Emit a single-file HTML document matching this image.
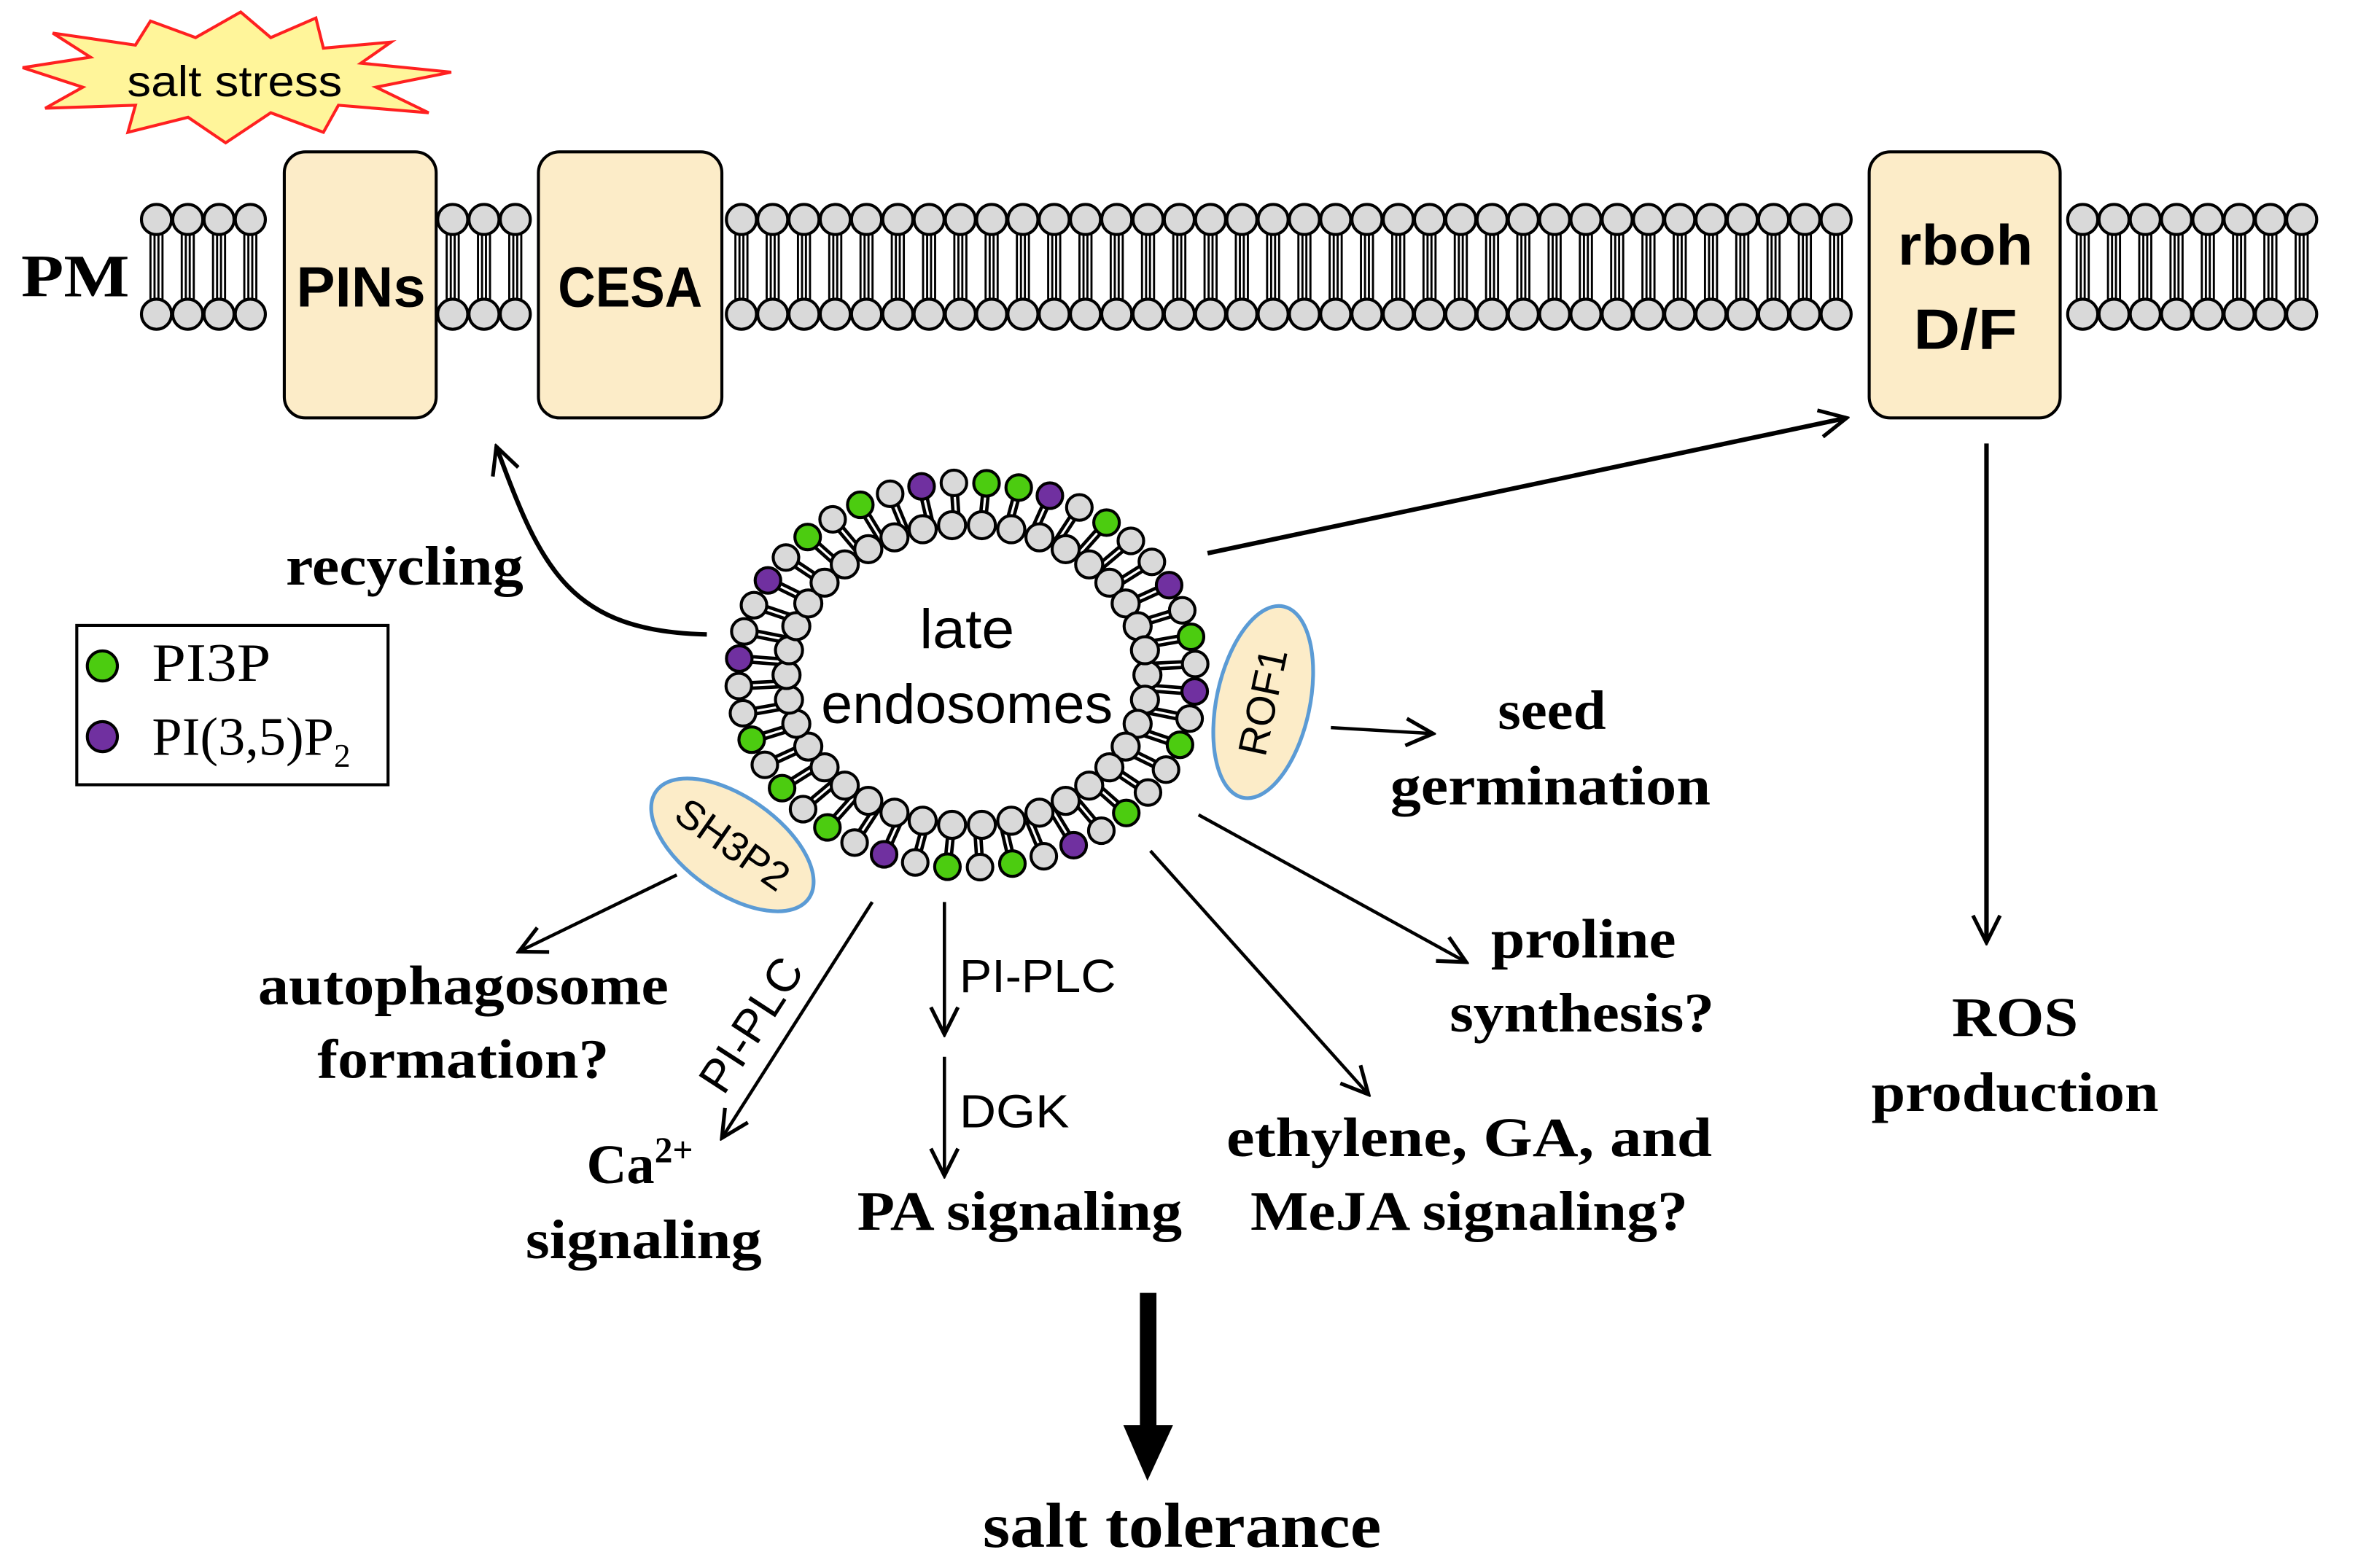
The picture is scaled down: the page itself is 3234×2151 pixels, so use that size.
<!DOCTYPE html>
<html><head><meta charset="utf-8">
<style>html,body{margin:0;padding:0;background:#fff}svg{display:block}</style>
</head><body>
<svg id="s" xmlns="http://www.w3.org/2000/svg" width="3234" height="2151" viewBox="0 0 1568 1043">
<defs>
<marker id="ah2" markerWidth="22" markerHeight="22" refX="20" refY="11" orient="auto" markerUnits="userSpaceOnUse">
<path d="M2,2 L20,11 L2,20" fill="none" stroke="#000" stroke-width="2.5"/></marker>
</defs>
<rect width="1568" height="1043" fill="#fff"/>
<g id="mem"></g>
<g id="ves"></g>
<!-- salt stress -->
<polygon points="15,45 60,38 35,22 90,30 100,14 130,25 160,8 180,25 210,12 215,32 260,28 240,42 300,48 250,58 285,75 225,70 215,88 180,75 150,95 125,78 85,88 90,70 30,72 55,58" fill="#fff59a" stroke="#ff2020" stroke-width="2"/>
<text x="156" y="64" font-family="Liberation Sans, sans-serif" font-size="29" text-anchor="middle" textLength="143" lengthAdjust="spacingAndGlyphs">salt stress</text>
<text x="14" y="197" font-family="Liberation Serif, serif" font-weight="bold" font-size="40" textLength="72" lengthAdjust="spacingAndGlyphs">PM</text>
<!-- proteins -->
<g fill="#fcecc8" stroke="#000" stroke-width="2">
<rect x="189" y="101" width="101" height="177" rx="14"/>
<rect x="358" y="101" width="122" height="177" rx="14"/>
<rect x="1243" y="101" width="127" height="177" rx="14"/>
</g>
<g font-family="Liberation Sans, sans-serif" font-weight="bold" text-anchor="middle" font-size="38">
<text x="240" y="204" textLength="86" lengthAdjust="spacingAndGlyphs">PINs</text>
<text x="419" y="204" textLength="96" lengthAdjust="spacingAndGlyphs">CESA</text>
<text x="1307" y="176" textLength="90" lengthAdjust="spacingAndGlyphs">rboh</text>
<text x="1307" y="232" textLength="69" lengthAdjust="spacingAndGlyphs">D/F</text>
</g>
<!-- legend -->
<rect x="51" y="416" width="207" height="106" fill="#fff" stroke="#000" stroke-width="2"/>
<circle cx="68" cy="443" r="10" fill="#4ccc10" stroke="#000" stroke-width="2"/>
<circle cx="68" cy="490" r="10" fill="#7030a0" stroke="#000" stroke-width="2"/>
<g font-family="Liberation Serif, serif" font-size="36">
<text x="101" y="453" textLength="79" lengthAdjust="spacingAndGlyphs">PI3P</text>
<text x="101" y="502">PI(3,5)P<tspan font-size="22" dy="8">2</tspan></text>
</g>
<!-- SH3P2 / ROF1 -->
<g fill="#fcecc8" stroke="#5b9bd5" stroke-width="2.5">
<ellipse cx="487" cy="562" rx="62" ry="32" transform="rotate(35 487 562)"/>
<ellipse cx="840" cy="467" rx="31" ry="65" transform="rotate(12 840 467)"/>
</g>
<g font-family="Liberation Sans, sans-serif" font-size="27" text-anchor="middle">
<text x="487" y="571" transform="rotate(35 487 562)">SH3P2</text>
<text x="840" y="476" transform="rotate(-78 840 467)">ROF1</text>
</g>
<text x="643" y="431" font-family="Liberation Sans, sans-serif" font-size="37" text-anchor="middle" textLength="63" lengthAdjust="spacingAndGlyphs">late</text>
<text x="643" y="481" font-family="Liberation Sans, sans-serif" font-size="37" text-anchor="middle" textLength="194" lengthAdjust="spacingAndGlyphs">endosomes</text>
<!-- arrows -->
<g fill="none" stroke="#000" stroke-width="3">
<path d="M470,422 C380,420 360,380 330,297" marker-end="url(#ah2)"/>
<path d="M803,368 L1228,278" marker-end="url(#ah2)"/>
<path d="M1321,295 L1321,627" marker-end="url(#ah2)"/>
</g>
<g fill="none" stroke="#000" stroke-width="2.2">
<path d="M885,484 L953,488" marker-end="url(#ah2)"/>
<path d="M797,542 L975,640" marker-end="url(#ah2)"/>
<path d="M765,566 L910,728" marker-end="url(#ah2)"/>
<path d="M628,600 L628,688" marker-end="url(#ah2)"/>
<path d="M628,703 L628,782" marker-end="url(#ah2)"/>
<path d="M580,600 L480,757" marker-end="url(#ah2)"/>
<path d="M450,582 L345,633" marker-end="url(#ah2)"/>
</g>
<rect x="758" y="860" width="11" height="90" fill="#000"/>
<polygon points="747,948 780,948 763,985" fill="#000"/>
<!-- labels -->
<g font-family="Liberation Serif, serif" font-weight="bold" font-size="37" text-anchor="middle">
<text x="269" y="389" textLength="158" lengthAdjust="spacingAndGlyphs">recycling</text>
<text x="1032" y="485" textLength="72" lengthAdjust="spacingAndGlyphs">seed</text>
<text x="1031" y="535" textLength="213" lengthAdjust="spacingAndGlyphs">germination</text>
<text x="1053" y="637" textLength="123" lengthAdjust="spacingAndGlyphs">proline</text>
<text x="1052" y="686" textLength="176" lengthAdjust="spacingAndGlyphs">synthesis?</text>
<text x="1340" y="689" textLength="84" lengthAdjust="spacingAndGlyphs">ROS</text>
<text x="1340" y="739" textLength="191" lengthAdjust="spacingAndGlyphs">production</text>
<text x="308" y="668" textLength="273" lengthAdjust="spacingAndGlyphs">autophagosome</text>
<text x="308" y="717" textLength="194" lengthAdjust="spacingAndGlyphs">formation?</text>
<text x="390" y="787" text-anchor="start">Ca<tspan font-size="24" dy="-14">2+</tspan></text>
<text x="428" y="837" textLength="157" lengthAdjust="spacingAndGlyphs">signaling</text>
<text x="678" y="818" textLength="216" lengthAdjust="spacingAndGlyphs">PA signaling</text>
<text x="977" y="769" textLength="323" lengthAdjust="spacingAndGlyphs">ethylene, GA,  and</text>
<text x="977" y="818" textLength="291" lengthAdjust="spacingAndGlyphs">MeJA signaling?</text>
<text x="786" y="1029" font-size="42" textLength="265" lengthAdjust="spacingAndGlyphs">salt tolerance</text>
</g>
<g font-family="Liberation Sans, sans-serif" font-size="31">
<text x="638" y="660" textLength="104" lengthAdjust="spacingAndGlyphs">PI-PLC</text>
<text x="638" y="750" textLength="73" lengthAdjust="spacingAndGlyphs">DGK</text>
<text x="500" y="692" text-anchor="middle" transform="rotate(-57 500 682)">PI-PLC</text>
</g>
</svg>
<script>
var NS="http://www.w3.org/2000/svg";
function el(p,t,a){var e=document.createElementNS(NS,t);for(var k in a)e.setAttribute(k,a[k]);p.appendChild(e);var s=document.getElementById('s');return e;}
var mem=document.getElementById('mem');
var segs=[[104,4],[301,3],[493,36],[1385,8]];
var sp=20.8;
segs.forEach(function(sg){
 for(var k=0;k<sg[1];k++){
  var x=sg[0]+k*sp;
  [-4,-1.3,1.3,4].forEach(function(d){
   el(mem,'line',{x1:x+d,y1:156,x2:x+d,y2:199,stroke:'#000','stroke-width':1.4});});
  el(mem,'circle',{cx:x,cy:146,r:10,fill:'#d9d9d9',stroke:'#000','stroke-width':2});
  el(mem,'circle',{cx:x,cy:209,r:10,fill:'#d9d9d9',stroke:'#000','stroke-width':2});
 }
});
var ves=document.getElementById('ves');
var cx=643,cy=449,N=44;
var cols={};
var green=[2,3,6,11,15,18,22,24,28,30,32,40,42],purp=[0,4,9,13,20,26,35,38];
green.forEach(function(i){cols[i]='#4ccc10'});purp.forEach(function(i){cols[i]='#7030a0'});
for(var i=0;i<N;i++){
 var a=-Math.PI/2-0.2+i*2*Math.PI/N;
 var ox=cx+152*Math.cos(a),oy=cy+128*Math.sin(a);
 var ix=cx+122*Math.cos(a),iy=cy+102*Math.sin(a);
 el(ves,'line',{x1:ox,y1:oy,x2:ix,y2:iy,stroke:'#000','stroke-width':6});
 el(ves,'line',{x1:ox,y1:oy,x2:ix,y2:iy,stroke:'#fff','stroke-width':1.5});
}
for(var i=0;i<N;i++){
 var a=-Math.PI/2-0.2+i*2*Math.PI/N;
 el(ves,'circle',{cx:cx+152*Math.cos(a),cy:cy+128*Math.sin(a),r:8.5,fill:cols[i]||'#d9d9d9',stroke:'#000','stroke-width':2});
}
var M=38;
for(var i=0;i<M;i++){
 var a=i*2*Math.PI/M;
 el(ves,'circle',{cx:cx+120*Math.cos(a),cy:cy+100*Math.sin(a),r:9,fill:'#d9d9d9',stroke:'#000','stroke-width':2});
}
</script>
</body></html>
